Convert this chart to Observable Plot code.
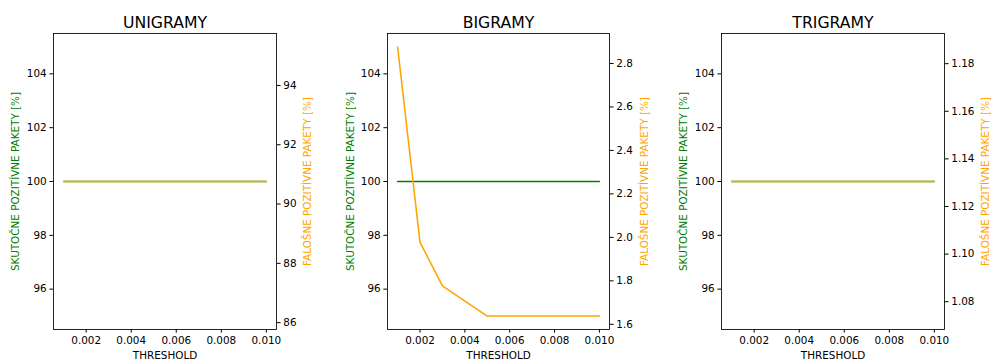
<!DOCTYPE html>
<html>
<head>
<meta charset="utf-8">
<script src="https://cdn.jsdelivr.net/npm/d3@7"></script>
<script src="https://cdn.jsdelivr.net/npm/@observablehq/plot@0.6"></script>
<style>
  html, body { margin: 0; padding: 0; background: #fff; }
  #chart { position: relative; width: 992px; height: 360px; overflow: hidden; font-family: "DejaVu Sans", sans-serif; }
  #chart svg { position: absolute; top: 0; }
</style>
</head>
<body>
<div id="chart"></div>
<script>
// ---- data ----
const thresholds = [0.001, 0.002, 0.003, 0.004, 0.005, 0.006, 0.007, 0.008, 0.009, 0.010];
const titles = ["UNIGRAMY", "BIGRAMY", "TRIGRAMY"];
const uniTrue  = [100, 100, 100, 100, 100, 100, 100, 100, 100, 100];
const uniFalse = [90.76, 90.76, 90.76, 90.76, 90.76, 90.76, 90.76, 90.76, 90.76, 90.76];
const biTrue   = [100, 100, 100, 100, 100, 100, 100, 100, 100, 100];
const biFalse  = [2.876, 1.977, 1.777, 1.707, 1.638, 1.638, 1.638, 1.638, 1.638, 1.638];
const triTrue  = [100, 100, 100, 100, 100, 100, 100, 100, 100, 100];
const triFalse = [1.1305, 1.1305, 1.1305, 1.1305, 1.1305, 1.1305, 1.1305, 1.1305, 1.1305, 1.1305];
const xTicks = [0.002, 0.004, 0.006, 0.008, 0.010];
const leftTicks = [96, 98, 100, 102, 104];
const uniRightTicks = [86, 88, 90, 92, 94];
const biRightTicks = [1.6, 1.8, 2.0, 2.2, 2.4, 2.6, 2.8];
const triRightTicks = [1.08, 1.10, 1.12, 1.14, 1.16, 1.18];
const xLabel = "THRESHOLD";
const leftLabel = "SKUTOČNE POZITÍVNE PAKETY [%]";
const rightLabel = "FALOŠNE POZITÍVNE PAKETY [%]";

// matplotlib-like autoscale
function mplDomain(values) {
  let lo = d3.min(values), hi = d3.max(values);
  if (lo === hi) { lo -= Math.abs(lo) * 0.05; hi += Math.abs(hi) * 0.05; }
  const m = (hi - lo) * 0.05;
  return [lo - m, hi + m];
}

const GREEN = "#008000", ORANGE = "#ffa500";
const FS = 10.4;
const H = 360, MT = 33, MB = 31;

const panels = [
  {left: 0,   width: 330, ml: 53, mr: 54, title: titles[0], t: uniTrue, f: uniFalse, rt: uniRightTicks, rf: d3.format("d"),   ldx: -38, rdx: 31},
  {left: 330, width: 330, ml: 57, mr: 51, title: titles[1], t: biTrue,  f: biFalse,  rt: biRightTicks,  rf: d3.format(".1f"), ldx: -37, rdx: 35},
  {left: 660, width: 332, ml: 61, mr: 48, title: titles[2], t: triTrue, f: triFalse, rt: triRightTicks, rf: d3.format(".2f"), ldx: -38, rdx: 41}
];

const root = document.getElementById("chart");
const style = {fontFamily: "DejaVu Sans, sans-serif", fontSize: FS + "px", background: "transparent", overflow: "visible", color: "#000"};

for (const p of panels) {
  const dataL = thresholds.map((x, i) => ({x, y: p.t[i]}));
  const dataR = thresholds.map((x, i) => ({x, y: p.f[i]}));
  const common = {
    width: p.width, height: H,
    marginLeft: p.ml, marginRight: p.mr, marginTop: MT, marginBottom: MB,
    style
  };
  const leftPlot = Plot.plot({
    ...common,
    x: {domain: mplDomain(thresholds)},
    y: {domain: mplDomain(p.t)},
    marks: [
      Plot.axisX({ticks: xTicks, tickFormat: d3.format(".3f"), tickSize: 3.6, tickPadding: 3.2, label: null, fontSize: FS}),
      Plot.axisY({ticks: leftTicks, tickFormat: d3.format("d"), tickSize: 3.6, tickPadding: 3.2, label: null, anchor: "left", fontSize: FS}),
      Plot.line(dataL, {x: "x", y: "y", stroke: GREEN, strokeWidth: 1.55}),
      Plot.text([p.title], {frameAnchor: "top", dy: -6, lineAnchor: "bottom", fontSize: 15.7, fill: "#000"}),
      Plot.text([xLabel], {frameAnchor: "bottom", dy: 26, lineAnchor: "middle", fontSize: FS, fill: "#000"}),
      Plot.text([leftLabel], {frameAnchor: "left", dx: p.ldx, rotate: -90, textAnchor: "middle", lineAnchor: "middle", fontSize: FS, fill: GREEN})
    ]
  });
  const rightPlot = Plot.plot({
    ...common,
    x: {domain: mplDomain(thresholds), axis: null},
    y: {domain: mplDomain(p.f)},
    marks: [
      Plot.axisY({ticks: p.rt, tickFormat: p.rf, tickSize: 3.6, tickPadding: 3.2, label: null, anchor: "right", fontSize: FS}),
      Plot.line(dataR, {x: "x", y: "y", stroke: ORANGE, strokeWidth: 1.55}),
      Plot.frame({stroke: "#000", strokeWidth: 0.85}),
      Plot.text([rightLabel], {frameAnchor: "right", dx: p.rdx, rotate: -90, textAnchor: "middle", lineAnchor: "middle", fontSize: FS, fill: ORANGE})
    ]
  });
  leftPlot.style.left = p.left + "px";
  rightPlot.style.left = p.left + "px";
  root.appendChild(leftPlot);
  root.appendChild(rightPlot);
}
</script>
</body>
</html>
